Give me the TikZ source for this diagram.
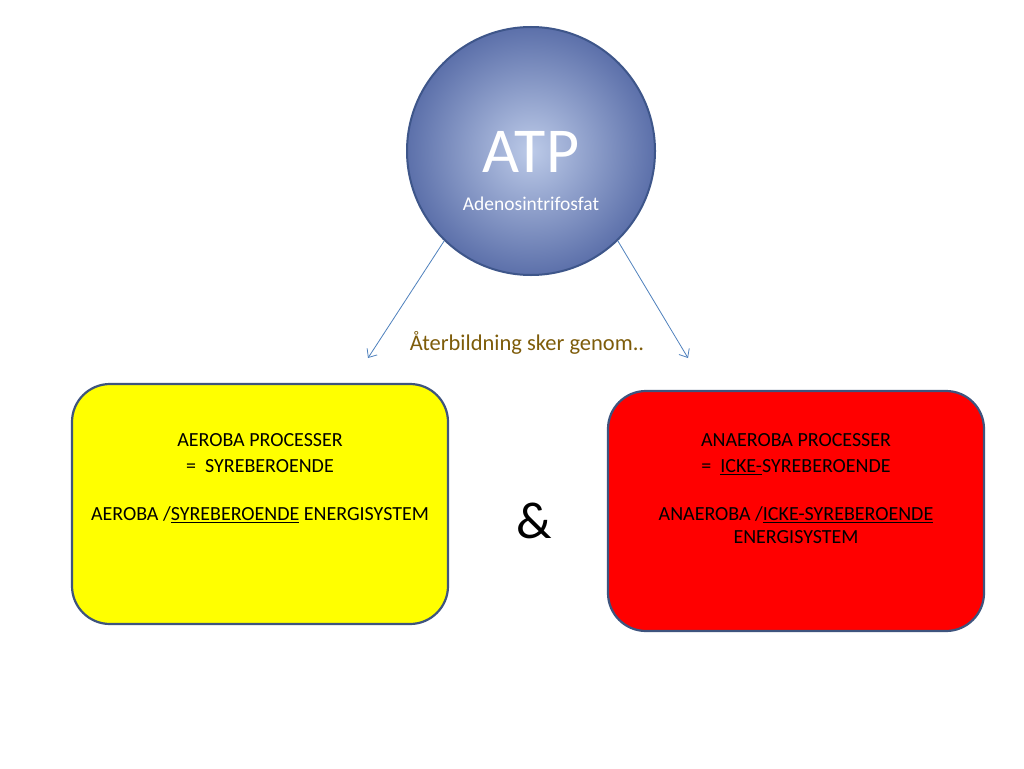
\documentclass[tikz,border=0pt]{standalone}
\usepackage{fontspec}
\setmainfont{Carlito}
\usepackage{tikz}
\usetikzlibrary{arrows.meta}

\definecolor{atpin}{RGB}{188,202,232}
\definecolor{atpout}{RGB}{92,112,170}
\definecolor{atpline}{RGB}{62,86,138}
\definecolor{pil}{RGB}{79,129,189}
\definecolor{boxline}{RGB}{62,84,126}
\definecolor{brun}{RGB}{126,92,10}
\definecolor{gul}{RGB}{255,255,0}

\begin{document}
\begin{tikzpicture}[x=1pt, y=-1pt,
    >={Straight Barb[length=7pt,width=12pt]},
    every node/.append style={align=center, inner sep=0},
    proc/.style={draw=boxline, line width=2.2pt, rounded corners=38pt,
      minimum width=376pt, minimum height=240pt},
    txt/.style={anchor=north, font=\fontsize{20}{26}\selectfont}]
    \tikzstyle{connection}=[inner sep=0,outer sep=0]

   \useasboundingbox[fill=white] (0,0) rectangle (1024,768);

   \node [circle, draw=atpline, line width=2pt, minimum size=248pt,
     inner color=atpin, outer color=atpout] (ATP) at (531,151) {};
   \node [anchor=base, text=white, font=\fontsize{64}{64}\selectfont] (T) at (531,172) {ATP};
   \node [anchor=base, text=white, font=\fontsize{19.5}{20}\selectfont] (N) at (531,210) {Adenosintrifosfat};

   \node [proc, fill=gul] (Aer) at (260,504) {};
   \node [proc, fill=red] (Ana) at (796,511) {};
   \node [txt] (AerT) at (260,433) {AEROBA PROCESSER\\
     =\ \ SYREBEROENDE\\[22pt]
     AEROBA /\underline{SYREBEROENDE} ENERGISYSTEM};
   \node [txt] (AnaT) at (796,433) {ANAEROBA PROCESSER\\
     =\ \ \underline{ICKE-}SYREBEROENDE\\[22pt]
     ANAEROBA /\underline{ICKE-SYREBEROENDE}\\[-3pt]
     ENERGISYSTEM};
   \node [font=\fontsize{52}{52}\selectfont] (och) at (534,521) {\&};

   \node [text=brun, font=\fontsize{22.5}{22}\selectfont] (L) at (527,343) {Återbildning sker genom..};
   \coordinate [connection] (D1) at (368,358);
   \coordinate [connection] (D2) at (688,358);

   \draw[->, pil, line width=0.8pt] (ATP.226) -- (D1);
   \draw[->, pil, line width=0.8pt] (ATP.314) -- (D2);
\end{tikzpicture}
\end{document}
